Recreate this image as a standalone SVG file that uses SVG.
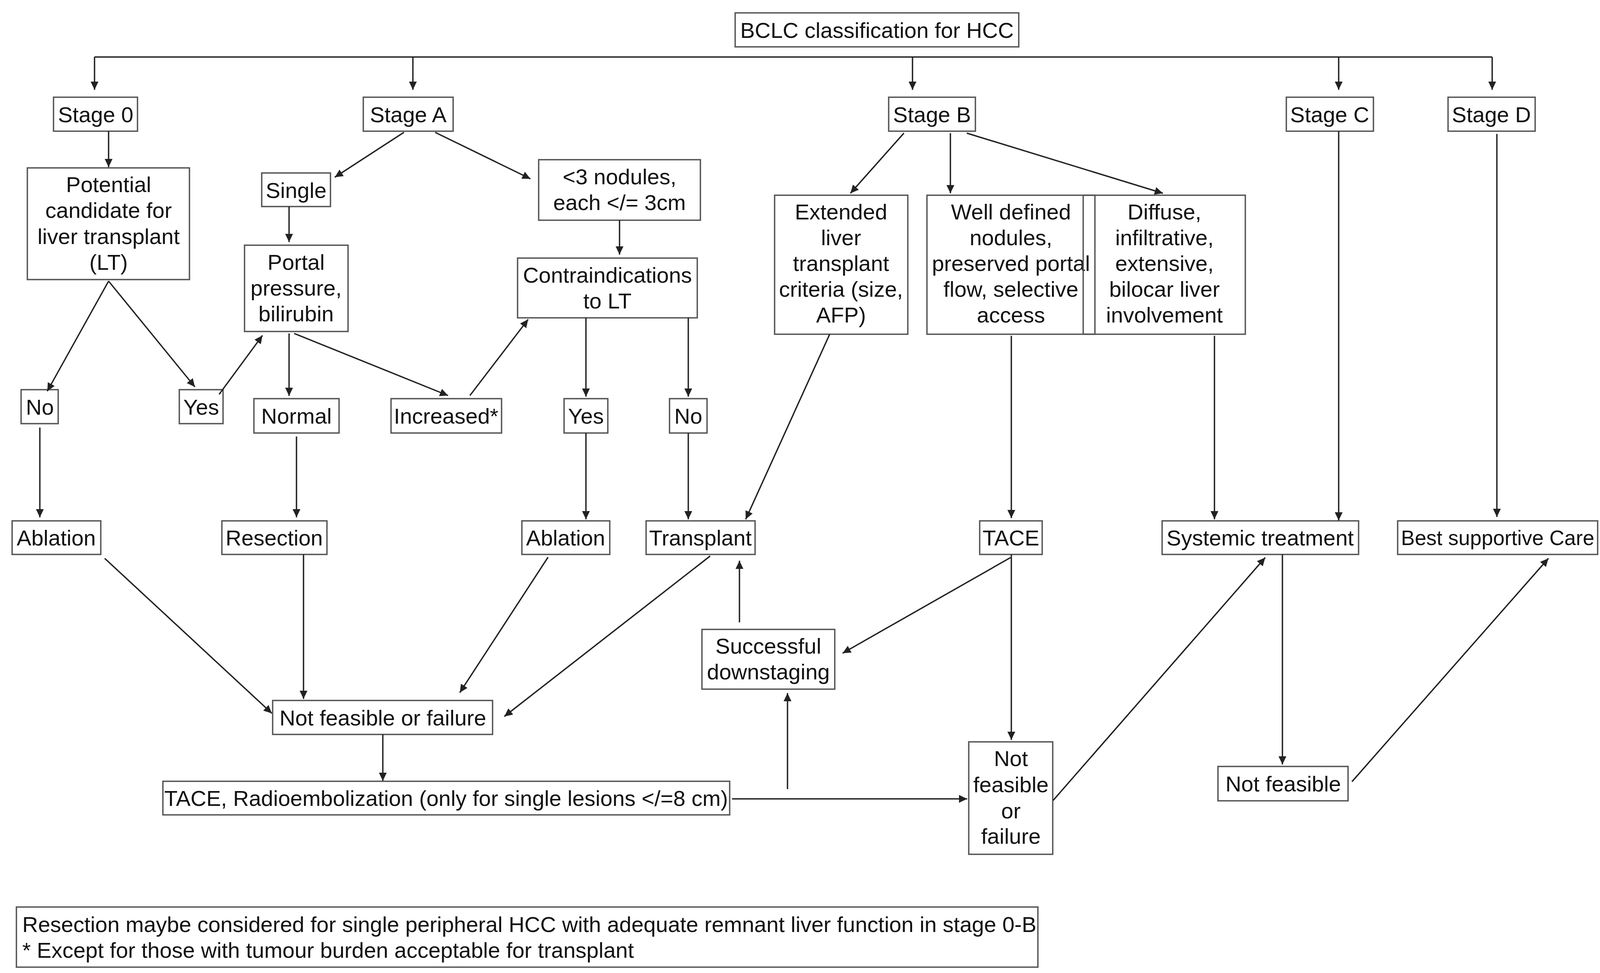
<svg xmlns="http://www.w3.org/2000/svg" width="4190" height="2492" viewBox="0 0 4190 2492">
<style>
.b{fill:none;stroke:#555;stroke-width:3.5}
.t{font-family:"Liberation Sans",Arial,sans-serif;font-size:56px;fill:#111;text-anchor:middle}
.tl{font-family:"Liberation Sans",Arial,sans-serif;font-size:56px;fill:#111}
.c line{stroke:#222;stroke-width:3.5;marker-end:url(#ah)}
.c line.n{marker-end:none}
</style>
<defs>
<marker id="ah" markerUnits="userSpaceOnUse" markerWidth="24" markerHeight="22" refX="21" refY="10" orient="auto">
<path d="M0,0 L21,10 L0,20 z" fill="#222"/>
</marker>
</defs>
<rect width="4190" height="2492" fill="#fff"/>
<g id="nodes">
<g id="bclc"><rect class="b" x="1882" y="33" width="726" height="87"/><text class="t" x="2245" y="97">BCLC classification for HCC</text></g>
<g id="stage0"><rect class="b" x="137" y="249" width="215" height="87"/><text class="t" x="245" y="313">Stage 0</text></g>
<g id="stageA"><rect class="b" x="930" y="249" width="230" height="87"/><text class="t" x="1045" y="313">Stage A</text></g>
<g id="stageB"><rect class="b" x="2275" y="249" width="222" height="87"/><text class="t" x="2386" y="313">Stage B</text></g>
<g id="stageC"><rect class="b" x="3293" y="249" width="223" height="87"/><text class="t" x="3404" y="313">Stage C</text></g>
<g id="stageD"><rect class="b" x="3707" y="249" width="223" height="87"/><text class="t" x="3818" y="313">Stage D</text></g>
<g id="potential"><rect class="b" x="70" y="430" width="415" height="286"/><text class="t" x="278" y="492">Potential</text><text class="t" x="278" y="558">candidate for</text><text class="t" x="278" y="625">liver transplant</text><text class="t" x="278" y="691">(LT)</text></g>
<g id="single"><rect class="b" x="670" y="443" width="176" height="86"/><text class="t" x="758" y="507">Single</text></g>
<g id="portal"><rect class="b" x="626" y="628" width="265" height="221"/><text class="t" x="758" y="691">Portal</text><text class="t" x="758" y="757">pressure,</text><text class="t" x="758" y="823">bilirubin</text></g>
<g id="nodules"><rect class="b" x="1379" y="409" width="414" height="155"/><text class="t" x="1586" y="472">&lt;3 nodules,</text><text class="t" x="1586" y="538">each &lt;/= 3cm</text></g>
<g id="contra"><rect class="b" x="1325" y="661" width="460" height="153"/><text class="t" x="1555" y="724">Contraindications</text><text class="t" x="1555" y="790">to LT</text></g>
<g id="extended"><rect class="b" x="1983" y="500" width="341" height="356"/><text class="t" x="2153" y="562">Extended</text><text class="t" x="2153" y="628">liver</text><text class="t" x="2153" y="694">transplant</text><text class="t" x="2153" y="760">criteria (size,</text><text class="t" x="2153" y="826">AFP)</text></g>
<g id="welldefined"><rect class="b" x="2373" y="500" width="430" height="356"/><text class="t" x="2588" y="562">Well defined</text><text class="t" x="2588" y="628">nodules,</text><text class="t" x="2588" y="694">preserved portal</text><text class="t" x="2588" y="760">flow, selective</text><text class="t" x="2588" y="826">access</text></g>
<g id="diffuse"><rect class="b" x="2773" y="500" width="415" height="356"/><text class="t" x="2981" y="562">Diffuse,</text><text class="t" x="2981" y="628">infiltrative,</text><text class="t" x="2981" y="694">extensive,</text><text class="t" x="2981" y="760">bilocar liver</text><text class="t" x="2981" y="826">involvement</text></g>
<g id="no1"><rect class="b" x="54" y="998" width="95" height="87"/><text class="t" x="102" y="1062">No</text></g>
<g id="yes1"><rect class="b" x="459" y="998" width="112" height="87"/><text class="t" x="515" y="1062">Yes</text></g>
<g id="normal"><rect class="b" x="650" y="1021" width="218" height="88"/><text class="t" x="759" y="1085">Normal</text></g>
<g id="increased"><rect class="b" x="1001" y="1021" width="283" height="88"/><text class="t" x="1142" y="1085">Increased*</text></g>
<g id="yes2"><rect class="b" x="1444" y="1021" width="112" height="88"/><text class="t" x="1500" y="1085">Yes</text></g>
<g id="no2"><rect class="b" x="1714" y="1021" width="96" height="88"/><text class="t" x="1762" y="1085">No</text></g>
<g id="ablation1"><rect class="b" x="31" y="1334" width="227" height="86"/><text class="t" x="144" y="1397">Ablation</text></g>
<g id="resection"><rect class="b" x="568" y="1334" width="269" height="86"/><text class="t" x="702" y="1397">Resection</text></g>
<g id="ablation2"><rect class="b" x="1336" y="1334" width="225" height="86"/><text class="t" x="1448" y="1397">Ablation</text></g>
<g id="transplant"><rect class="b" x="1654" y="1334" width="279" height="86"/><text class="t" x="1793" y="1397">Transplant</text></g>
<g id="tace"><rect class="b" x="2508" y="1334" width="160" height="86"/><text class="t" x="2588" y="1397">TACE</text></g>
<g id="systemic"><rect class="b" x="2975" y="1334" width="503" height="86"/><text class="t" x="3226" y="1397">Systemic treatment</text></g>
<g id="bsc"><rect class="b" x="3578" y="1334" width="512" height="86"/><text class="t" x="3834" y="1396" style="font-size:53px">Best supportive Care</text></g>
<g id="successful"><rect class="b" x="1797" y="1612" width="340" height="153"/><text class="t" x="1967" y="1674">Successful</text><text class="t" x="1967" y="1740">downstaging</text></g>
<g id="nf1"><rect class="b" x="698" y="1794" width="563" height="87"/><text class="t" x="980" y="1858">Not feasible or failure</text></g>
<g id="radio"><rect class="b" x="417" y="2001" width="1451" height="86"/><text class="t" x="1142" y="2064">TACE, Radioembolization (only for single lesions &lt;/=8 cm)</text></g>
<g id="nf2"><rect class="b" x="2480" y="1900" width="215" height="288"/><text class="t" x="2588" y="1962">Not</text><text class="t" x="2588" y="2029">feasible</text><text class="t" x="2588" y="2096">or</text><text class="t" x="2588" y="2161">failure</text></g>
<g id="nf3"><rect class="b" x="3118" y="1963" width="333" height="88"/><text class="t" x="3285" y="2027">Not feasible</text></g>
<g id="footnote"><rect class="b" x="42" y="2323" width="2615" height="154"/><text class="tl" x="57" y="2387">Resection maybe considered for single peripheral HCC with adequate remnant liver function in stage 0-B</text><text class="tl" x="57" y="2453">* Except for those with tumour burden acceptable for transplant</text></g>
</g>
<g id="connectors" class="c">
<line class="n" x1="242" y1="146" x2="3820" y2="146"/>
<line x1="242" y1="146" x2="242" y2="230"/>
<line x1="1057" y1="146" x2="1057" y2="230"/>
<line x1="2336" y1="146" x2="2336" y2="230"/>
<line x1="3427" y1="146" x2="3427" y2="230"/>
<line x1="3820" y1="146" x2="3820" y2="230"/>
<line x1="278" y1="336" x2="278" y2="428"/>
<line x1="1034" y1="339" x2="857" y2="454"/>
<line x1="1114" y1="339" x2="1358" y2="458"/>
<line x1="740" y1="529" x2="740" y2="620"/>
<line x1="1586" y1="564" x2="1586" y2="652"/>
<line x1="278" y1="720" x2="121" y2="1002"/>
<line x1="278" y1="720" x2="499" y2="991"/>
<line x1="561" y1="1010" x2="672" y2="859"/>
<line x1="740" y1="854" x2="740" y2="1014"/>
<line x1="753" y1="854" x2="1147" y2="1013"/>
<line x1="1203" y1="1013" x2="1352" y2="818"/>
<line x1="1500" y1="814" x2="1500" y2="1016"/>
<line x1="1762" y1="814" x2="1762" y2="1016"/>
<line x1="102" y1="1095" x2="102" y2="1325"/>
<line x1="759" y1="1118" x2="759" y2="1325"/>
<line x1="1500" y1="1109" x2="1500" y2="1330"/>
<line x1="1762" y1="1109" x2="1762" y2="1330"/>
<line x1="2314" y1="341" x2="2177" y2="495"/>
<line x1="2433" y1="341" x2="2433" y2="495"/>
<line x1="2475" y1="341" x2="2977" y2="495"/>
<line x1="2124" y1="856" x2="1909" y2="1330"/>
<line x1="2589" y1="860" x2="2589" y2="1327"/>
<line x1="3109" y1="860" x2="3109" y2="1330"/>
<line x1="3427" y1="336" x2="3427" y2="1333"/>
<line x1="3832" y1="343" x2="3832" y2="1324"/>
<line x1="268" y1="1430" x2="696" y2="1827"/>
<line x1="777" y1="1420" x2="777" y2="1790"/>
<line x1="1403" y1="1427" x2="1177" y2="1774"/>
<line x1="1818" y1="1424" x2="1291" y2="1835"/>
<line x1="1893" y1="1594" x2="1893" y2="1436"/>
<line x1="2587" y1="1428" x2="2157" y2="1673"/>
<line x1="2589" y1="1420" x2="2589" y2="1895"/>
<line x1="980" y1="1881" x2="980" y2="2000"/>
<line x1="1874" y1="2046" x2="2476" y2="2046"/>
<line x1="2016" y1="2021" x2="2016" y2="1775"/>
<line x1="2696" y1="2050" x2="3239" y2="1428"/>
<line x1="3283" y1="1420" x2="3283" y2="1958"/>
<line x1="3461" y1="2002" x2="3964" y2="1430"/>
</g>
</svg>
